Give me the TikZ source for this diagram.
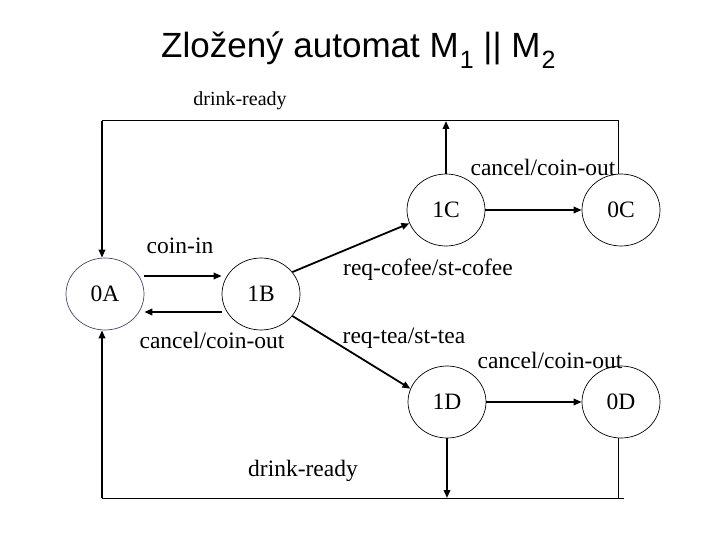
\documentclass[tikz,border=0pt]{standalone}
\usepackage{fontspec}
\setmainfont{Liberation Serif}
\newfontfamily\titlefont{Liberation Sans}
\usetikzlibrary{shapes.geometric,arrows.meta}
\definecolor{grayblue}{RGB}{70,70,105}
\newcommand{\titlesub}[1]{\hspace{1pt}\raisebox{-11pt}{\fontsize{25}{30}\selectfont #1}}
\begin{document}
\begin{tikzpicture}[x=1pt,y=-1pt,
  state/.style={draw, ellipse, minimum width=78pt, minimum height=72pt, inner sep=0pt,
    line width=0.7pt, font=\fontsize{23.5}{28}\selectfont},
  lbl/.style={font=\fontsize{23.5}{28}\selectfont, anchor=base, inner sep=0pt},
  arr/.style={line width=1.8pt, -{Triangle[length=8pt,width=6.5pt]}},
  frame/.style={line width=1pt},
]
\useasboundingbox (0,0) rectangle (720,540);

\node[anchor=base west, inner sep=0pt, font=\titlefont\fontsize{35}{42}\selectfont] (title) at (161,58)
  {Zložený automat M\titlesub{1} || M\titlesub{2}};

% states
\node[state, draw=grayblue] (A) at (105,294) {0A};
\node[state] (B) at (261,294) {\raisebox{-4pt}{1B}};
\node[state] (C1) at (446,210) {\raisebox{-3pt}{1C}};
\node[state] (C0) at (621,210) {\raisebox{-3pt}{0C}};
\node[state] (D1) at (447,402) {\raisebox{-3pt}{1D}};
\node[state] (D0) at (621,402) {0D};

% frame corner coordinates
\coordinate (tl) at (102,121);
\coordinate (bl) at (102,498);
\coordinate (br) at (624,498);

% transitions
\draw[arr] ([yshift=18pt]A.east) -- ([yshift=18pt]B.west);
\draw[arr] ([yshift=-18pt]B.west) -- ([yshift=-18pt]A.east);
\draw[arr] (B.35) -- (C1.200);
\draw[arr] (B.-35) -- (D1.160);
\draw[arr] (C1.east) -- (C0.west);
\draw[arr] (D1.east) -- (D0.west);

% top return
\draw[frame] ([xshift=-3pt]C0.north) -- ([xshift=-3pt]C0.north |- tl) -- (tl);
\draw[arr] (tl) -- ([xshift=-3pt]A.north);
\draw[arr] (C1.north) -- (C1.north |- tl);

% bottom return
\draw[frame] ([xshift=-3pt]D0.south) -- ([xshift=-3pt]D0.south |- bl);
\draw[frame] (br) -- (bl);
\draw[arr] (bl) -- ([xshift=-3pt]A.south);
\draw[arr] (D1.south) -- (D1.south |- bl);

% labels
\node[lbl, font=\fontsize{20}{24}\selectfont] (l1) at (240,106) {drink-ready};
\node[lbl] (l2) at (543,176) {cancel/coin-out};
\node[lbl] (l3) at (180,254) {coin-in};
\node[lbl] (l4) at (212,348) {cancel/coin-out};
\node[lbl] (l5) at (428,275) {req-cofee/st-cofee};
\node[lbl] (l6) at (404,343) {req-tea/st-tea};
\node[lbl] (l7) at (550,368) {cancel/coin-out};
\node[lbl] (l8) at (303,476) {drink-ready};
\end{tikzpicture}
\end{document}
